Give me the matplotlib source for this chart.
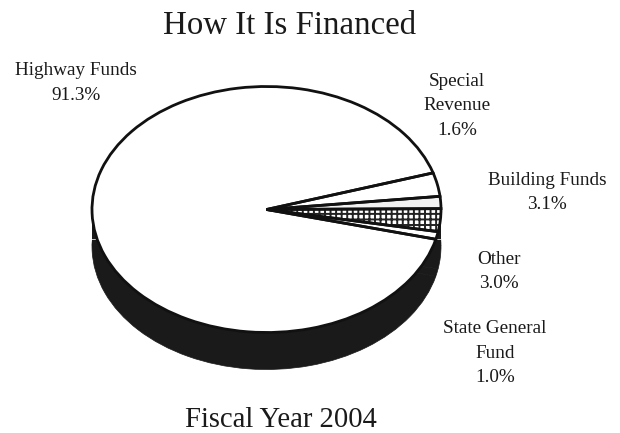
import matplotlib
matplotlib.use("Agg")
import matplotlib.pyplot as plt
from matplotlib.patches import Rectangle

plt.rcParams['font.family'] = ['Liberation Serif', 'DejaVu Serif']
plt.rcParams['hatch.linewidth'] = 1.4

# data, in the order the slices are drawn (counter clockwise from lower right)
sources = ["State General\nFund", "Other", "Special\nRevenue", "Building Funds", "Highway Funds"]
shares = [1.0, 3.0, 1.6, 3.1, 91.3]
wedge_fill = ["white", "white", "#f2f2f2", "white", "white"]

W, H = 620, 433
CX, CY = 266.5, 209.5  # pie centre, pixels
RX, RY = 174.5, 123    # flattened radii, pixels
DEPTH = 37 / RY
START = -14
DARK = "#1a1a1a"

fig = plt.figure(figsize=(W / 100, H / 100), dpi=100)
ax = fig.add_axes([(CX - 1.25 * RX) / W, 1 - (CY + 1.25 * RY) / H, 2.5 * RX / W, 2.5 * RY / H])

# side of the disc: black copy shifted down, with a block joining the two
ax.pie(shares, startangle=START, radius=1, center=(0, -DEPTH), colors=[DARK] * len(shares),
       wedgeprops=dict(edgecolor=DARK, linewidth=0.5))
ax.add_patch(Rectangle((-1, -DEPTH), 2, DEPTH, color=DARK, lw=0))
# pale seam across the side of the disc
ax.add_patch(Rectangle((-1, -0.25), 2, 0.008, color="#c0c0c0", lw=0))

# top face
wedges, _ = ax.pie(shares, startangle=START, radius=1, colors=wedge_fill,
                   wedgeprops=dict(edgecolor="none"))
wedges[1].set_edgecolor("#222222")
wedges[1].set_hatch("+++")
wedges[1].set_linewidth(0)

# outlines on top
ax.pie(shares, startangle=START, radius=1, colors=["none"] * len(shares),
       wedgeprops=dict(edgecolor="#111111", linewidth=2.0))

ax.set_aspect("auto")
ax.set_xlim(-1.25, 1.25)
ax.set_ylim(-1.25, 1.25)


def label(px, py, s, size=13.8):
    fig.text(px / W, 1 - py / H, s, ha="center", va="center", fontsize=size,
             color="#1a1a1a", linespacing=1.57)


def share_label(name):
    i = sources.index(name)
    return f"{sources[i]}\n{shares[i]:.1f}%"


fig.text(290 / W, 1 - 26 / H, "How It Is Financed", ha="center", va="center", fontsize=23.7, color="#1a1a1a")
fig.text(281 / W, 1 - 420 / H, "Fiscal Year 2004", ha="center", va="center", fontsize=20.6, color="#1a1a1a")

label(76, 83, share_label("Highway Funds"))
label(457, 106, share_label("Special\nRevenue"))
label(547, 192.5, share_label("Building Funds"))
label(499, 271.5, share_label("Other"))
label(495, 353, share_label("State General\nFund"))

fig.savefig("out.png", dpi=100)
